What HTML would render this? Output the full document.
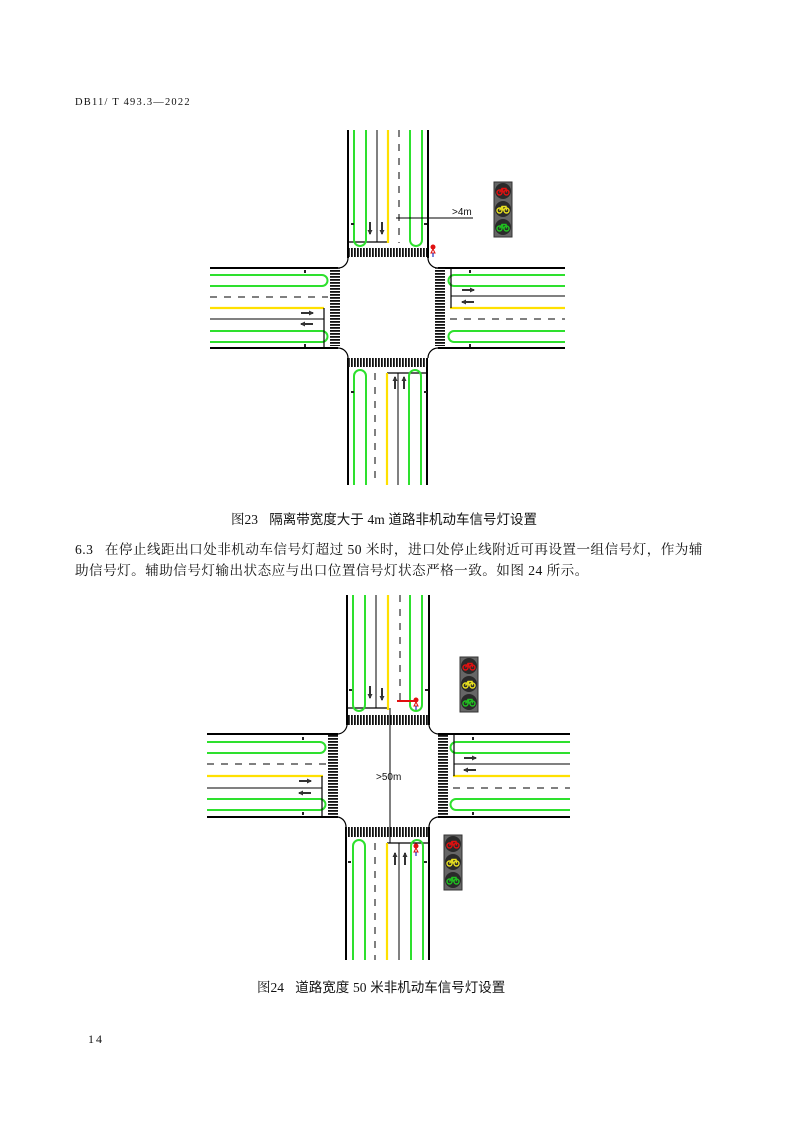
<!DOCTYPE html>
<html><head><meta charset="utf-8"><style>
html,body{margin:0;padding:0;background:#fff}
body{width:793px;height:1123px;position:relative;overflow:hidden}
.t{position:absolute;white-space:nowrap;color:#111}
.serif{font-family:"Liberation Serif","Noto Serif CJK SC",serif}
.sans{font-family:"Liberation Sans","Noto Sans CJK SC",sans-serif}
</style></head><body>
<div class="t serif" style="left:75px;top:96px;font-size:11px;letter-spacing:1.3px;transform:scaleX(0.95);transform-origin:0 0">DB11/ T 493.3—2022</div>
<div class="t sans" style="left:231px;top:508px;font-size:13.5px"><span class="serif">图23</span>&nbsp;&nbsp;&nbsp;隔离带宽度大于 <span class="serif">4m</span> 道路非机动车信号灯设置</div>
<div class="t serif" style="left:75px;top:538px;font-size:13.6px;letter-spacing:0.45px">6.3&nbsp;&nbsp;&nbsp;在停止线距出口处非机动车信号灯超过 50 米时，进口处停止线附近可再设置一组信号灯，作为辅</div>
<div class="t serif" style="left:75px;top:559px;font-size:13.6px;letter-spacing:0.45px">助信号灯。辅助信号灯输出状态应与出口位置信号灯状态严格一致。如图 24 所示。</div>
<div class="t sans" style="left:257px;top:976px;font-size:13.5px"><span class="serif">图24</span>&nbsp;&nbsp;&nbsp;道路宽度 <span class="serif">50</span> 米非机动车信号灯设置</div>
<div class="t serif" style="left:88px;top:1032px;font-size:12px;letter-spacing:2px">14</div>

<svg width="793" height="1123" style="position:absolute;left:0;top:0" xmlns="http://www.w3.org/2000/svg">
<defs>
<pattern id="pv" width="3" height="20" patternUnits="userSpaceOnUse"><rect width="1.8" height="20" fill="#111"/></pattern>
<pattern id="ph" width="20" height="3" patternUnits="userSpaceOnUse"><rect width="20" height="1.8" fill="#111"/></pattern>
<g id="sig">
<rect x="0" y="0" width="18" height="55" fill="#666" stroke="#333"/>
<circle cx="9" cy="9" r="8" fill="#2a2a2a"/><circle cx="9" cy="27" r="8" fill="#2a2a2a"/><circle cx="9" cy="45" r="8" fill="#2a2a2a"/>
<g fill="none" stroke-width="1.4">
<g stroke="#e01010"><circle cx="5.5" cy="10.5" r="2.5"/><circle cx="12.5" cy="10.5" r="2.5"/><path d="M5.5 10.5L8 6.5H12L12.5 10.5M8 6.5L9.5 10.5"/></g>
<g stroke="#e8e020"><circle cx="5.5" cy="28.5" r="2.5"/><circle cx="12.5" cy="28.5" r="2.5"/><path d="M5.5 28.5L8 24.5H12L12.5 28.5M8 24.5L9.5 28.5"/></g>
<g stroke="#20c020"><circle cx="5.5" cy="46.5" r="2.5"/><circle cx="12.5" cy="46.5" r="2.5"/><path d="M5.5 46.5L8 42.5H12L12.5 46.5M8 42.5L9.5 46.5"/></g>
</g></g>
<g id="ped"><circle cx="0" cy="0" r="2.5" fill="#e01010"/><path d="M0 2L-2 6H2Z" fill="none" stroke="#e01010"/><path d="M0 6V10" stroke="#2030c0" stroke-width="1.2"/></g>
<g id="au"><path d="M0 -6V6" stroke="#333" stroke-width="2"/><path d="M-2.5 -2L0 -7L2.5 -2Z" fill="#333"/></g>
<g id="ar"><path d="M-6 0H6" stroke="#333" stroke-width="2"/><path d="M2 -2.5L7 0L2 2.5Z" fill="#333"/></g>
</defs>

<!-- ===== FIGURE 1 ===== -->
<g fill="none" stroke-width="2">
<path d="M348 130V258 M428 130V258" stroke="#000"/>
<path d="M348 242H388" stroke="#000" stroke-width="1.2"/>
<path d="M377 130V242" stroke="#000" stroke-width="1"/>
<path d="M388 130V243" stroke="#ffe000" stroke-width="2.2"/>
<path d="M399 130V243" stroke="#000" stroke-width="1" stroke-dasharray="7,7"/>
<path d="M354 130V240A6 6 0 0 0 366 240V130" stroke="#2ee02e"/>
<path d="M410 130V240A6 6 0 0 0 422 240V130" stroke="#2ee02e"/>
<path d="M210 268H338 M210 348H338" stroke="#000"/>
<path d="M210 275H322A5.5 5.5 0 0 1 322 286H210" stroke="#2ee02e"/>
<path d="M210 331H322A5.5 5.5 0 0 1 322 342H210" stroke="#2ee02e"/>
<path d="M210 297H328" stroke="#000" stroke-width="1" stroke-dasharray="7,7"/>
<path d="M210 308H324" stroke="#ffe000" stroke-width="2.2"/>
<path d="M210 319H324" stroke="#000" stroke-width="1"/>
<path d="M324 308V348" stroke="#000" stroke-width="1.2"/>
<path d="M438 268H565 M438 348H565" stroke="#000"/>
<path d="M565 275H454A5.5 5.5 0 0 0 454 286H565" stroke="#2ee02e"/>
<path d="M565 331H454A5.5 5.5 0 0 0 454 342H565" stroke="#2ee02e"/>
<path d="M451 296H565" stroke="#000" stroke-width="1"/>
<path d="M450 308H565" stroke="#ffe000" stroke-width="2.2"/>
<path d="M450 319H565" stroke="#000" stroke-width="1" stroke-dasharray="7,7"/>
<path d="M451 268V308" stroke="#000" stroke-width="1.2"/>
<path d="M348 358V485 M427 358V485" stroke="#000"/>
<path d="M387 373H427" stroke="#000" stroke-width="1.2"/>
<path d="M398 373V485" stroke="#000" stroke-width="1"/>
<path d="M387 373V485" stroke="#ffe000" stroke-width="2.2"/>
<path d="M375 373V485" stroke="#000" stroke-width="1" stroke-dasharray="7,7"/>
<path d="M354 485V376A6 6 0 0 1 366 376V485" stroke="#2ee02e"/>
<path d="M409 485V376A6 6 0 0 1 421 376V485" stroke="#2ee02e"/>
<path d="M348 258A10 10 0 0 1 338 268 M428 258A10 10 0 0 0 438 268 M338 348A10 10 0 0 1 348 358 M438 348A10 10 0 0 0 428 358" stroke="#000" stroke-width="1.2"/>
</g>
<rect x="349" y="248" width="78" height="9" fill="url(#pv)"/>
<rect x="348" y="358" width="79" height="9" fill="url(#pv)"/>
<rect x="330" y="268" width="10" height="78" fill="url(#ph)"/>
<rect x="435" y="268" width="10" height="78" fill="url(#ph)"/>
<g stroke="#222" stroke-width="2" fill="none">
<path d="M351 224h3 M424 224h3 M305 270v3 M305 344v3 M470 270v3 M470 344v3 M351 392h3 M424 392h3"/>
</g>
<use href="#au" x="370" y="228" transform="rotate(180 370 228)"/>
<use href="#au" x="382" y="228" transform="rotate(180 382 228)"/>
<use href="#au" x="395" y="383"/>
<use href="#au" x="404" y="383"/>
<use href="#ar" x="307" y="313"/>
<use href="#ar" x="307" y="324" transform="rotate(180 307 324)"/>
<use href="#ar" x="468" y="290"/>
<use href="#ar" x="468" y="302" transform="rotate(180 468 302)"/>
<path d="M396 218H473" stroke="#000" stroke-width="1"/>
<text x="452" y="215" font-family="Liberation Sans,sans-serif" font-size="10" fill="#111">&gt;4m</text>
<use href="#sig" x="494" y="182"/>
<use href="#ped" x="433" y="247"/>

<!-- ===== FIGURE 2 ===== -->
<g fill="none" stroke-width="2">
<path d="M347 595V725 M429 595V725" stroke="#000"/>
<path d="M347 708H388" stroke="#000" stroke-width="1.2"/>
<path d="M376 595V708" stroke="#000" stroke-width="1"/>
<path d="M388 595V710" stroke="#ffe000" stroke-width="2.2"/>
<path d="M400 595V700" stroke="#000" stroke-width="1" stroke-dasharray="7,7"/>
<path d="M353 595V705A6 6 0 0 0 365 705V595" stroke="#2ee02e"/>
<path d="M410 595V705A6 6 0 0 0 422 705V595" stroke="#2ee02e"/>
<path d="M207 734H338 M207 817H338" stroke="#000"/>
<path d="M207 742H320A5.5 5.5 0 0 1 320 753H207" stroke="#2ee02e"/>
<path d="M207 799H320A5.5 5.5 0 0 1 320 810H207" stroke="#2ee02e"/>
<path d="M207 764H326" stroke="#000" stroke-width="1" stroke-dasharray="7,7"/>
<path d="M207 776H323" stroke="#ffe000" stroke-width="2.2"/>
<path d="M207 788H322" stroke="#000" stroke-width="1"/>
<path d="M322 776V817" stroke="#000" stroke-width="1.2"/>
<path d="M438 734H570 M438 817H570" stroke="#000"/>
<path d="M570 742H456A5.5 5.5 0 0 0 456 753H570" stroke="#2ee02e"/>
<path d="M570 799H456A5.5 5.5 0 0 0 456 810H570" stroke="#2ee02e"/>
<path d="M454 764H570" stroke="#000" stroke-width="1"/>
<path d="M453 776H570" stroke="#ffe000" stroke-width="2.2"/>
<path d="M453 788H570" stroke="#000" stroke-width="1" stroke-dasharray="7,7"/>
<path d="M454 734V776" stroke="#000" stroke-width="1.2"/>
<path d="M346 827V960 M429 827V960" stroke="#000"/>
<path d="M387 843H429" stroke="#000" stroke-width="1.2"/>
<path d="M399 843V960" stroke="#000" stroke-width="1"/>
<path d="M387 843V960" stroke="#ffe000" stroke-width="2.2"/>
<path d="M375 843V960" stroke="#000" stroke-width="1" stroke-dasharray="7,7"/>
<path d="M353 960V846A6 6 0 0 1 365 846V960" stroke="#2ee02e"/>
<path d="M411 960V846A6 6 0 0 1 423 846V960" stroke="#2ee02e"/>
<path d="M347 725A10 10 0 0 1 338 734 M429 725A10 10 0 0 0 438 734 M338 817A10 10 0 0 1 346 827 M438 817A10 10 0 0 0 429 827" stroke="#000" stroke-width="1.2"/>
</g>
<rect x="347" y="715" width="82" height="10" fill="url(#pv)"/>
<rect x="346" y="827" width="83" height="10" fill="url(#pv)"/>
<rect x="328" y="735" width="10" height="80" fill="url(#ph)"/>
<rect x="438" y="735" width="10" height="80" fill="url(#ph)"/>
<g stroke="#222" stroke-width="2" fill="none">
<path d="M349 690h3 M425 690h3 M303 737v3 M303 812v3 M473 737v3 M473 812v3 M348 862h3 M424 862h3"/>
</g>
<use href="#au" x="370" y="692" transform="rotate(180 370 692)"/>
<use href="#au" x="382" y="694" transform="rotate(180 382 694)"/>
<use href="#au" x="395" y="859"/>
<use href="#au" x="405" y="859"/>
<use href="#ar" x="305" y="781"/>
<use href="#ar" x="305" y="793" transform="rotate(180 305 793)"/>
<use href="#ar" x="470" y="758"/>
<use href="#ar" x="470" y="770" transform="rotate(180 470 770)"/>
<path d="M390 708V843" stroke="#000" stroke-width="1"/>
<text x="376" y="780" font-family="Liberation Sans,sans-serif" font-size="10" fill="#111">&gt;50m</text>
<path d="M397 701H416" stroke="#e01010" stroke-width="2"/>
<use href="#ped" x="416" y="700"/>
<use href="#ped" x="416" y="846"/>
<use href="#sig" x="460" y="657"/>
<use href="#sig" x="444" y="835"/>
</svg>
</body></html>
